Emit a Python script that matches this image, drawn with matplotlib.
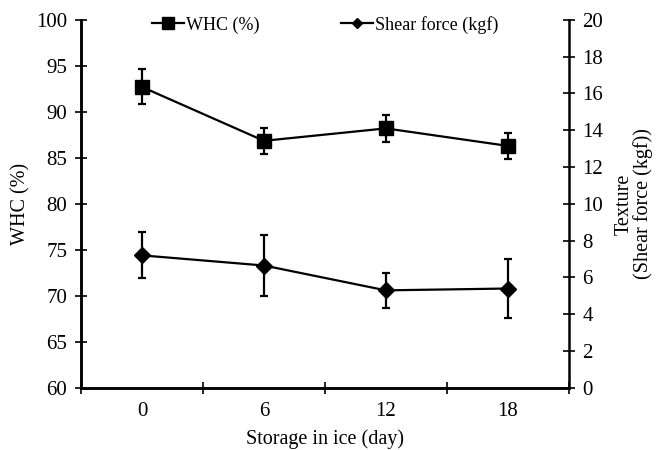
import numpy as np
import matplotlib
matplotlib.use("Agg")
import matplotlib.pyplot as plt
from matplotlib.lines import Line2D

# ===============================
# Data
# ===============================
days = ["0", "6", "12", "18"]
whc = [92.7, 86.85, 88.2, 86.3]
whc_err = [1.9, 1.4, 1.5, 1.45]
shear = [7.2, 6.65, 5.3, 5.4]
shear_err = [1.25, 1.65, 0.97, 1.62]

plt.rcParams["font.family"] = ["Liberation Serif", "DejaVu Serif"]
plt.rcParams["font.size"] = 15

x = np.arange(len(days))

fig = plt.figure(figsize=(6.59, 4.5), dpi=100)
ax = fig.add_axes([0.123, 0.138, 0.740, 0.818])
ax2 = ax.twinx()

ax.errorbar(x, whc, yerr=whc_err, color="black", marker="s", markersize=10,
            linewidth=1.6, elinewidth=1.6, capsize=3, capthick=1.6)
ax2.errorbar(x, shear, yerr=shear_err, color="black", marker="D", markersize=8,
             linewidth=1.6, elinewidth=1.6, capsize=3, capthick=1.6)

ax.set_xlim(-0.5, 3.5)
ax.set_ylim(60, 100)
ax.set_yticks(np.arange(60, 101, 5))
ax2.set_ylim(0, 20)
ax2.set_yticks(np.arange(0, 21, 2))

# boundary ticks between categories, labels at centres
ax.set_xticks(np.arange(-0.5, 3.6, 1.0))
ax.set_xticklabels([])
ax.set_xticks(x, minor=True)
ax.set_xticklabels(days, minor=True)
ax.tick_params(axis="x", which="minor", length=0, pad=10)
ax.tick_params(axis="x", which="major", direction="inout", length=8, width=1.2)
ax.tick_params(axis="y", direction="inout", length=8, width=1.2, pad=6)
ax2.tick_params(axis="y", direction="inout", length=8, width=1.2, pad=6)

for a in (ax, ax2):
    a.spines["top"].set_visible(False)
    for s in ("left", "right", "bottom"):
        a.spines[s].set_linewidth(1.8)
ax.spines["right"].set_visible(False)

ax.set_xlabel("Storage in ice (day)", labelpad=6, fontsize=14.5)
ax.set_ylabel("WHC (%)", fontsize=14.5, labelpad=4)
ax2.set_ylabel("Texture\n(Shear force (kgf))", fontsize=14.5, labelpad=8,
               linespacing=1.0)

h1 = Line2D([], [], color="black", marker="s", markersize=8, linewidth=1.6)
h2 = Line2D([], [], color="black", marker="D", markersize=5, linewidth=1.6)
ax.legend([h1, h2], ["WHC (%)", "Shear force (kgf)"], loc="upper center",
          ncol=2, frameon=False, handlelength=1.8, handletextpad=0.1,
          columnspacing=4.5, bbox_to_anchor=(0.5, 1.055), fontsize=13)

fig.savefig("out.png", dpi=100)
